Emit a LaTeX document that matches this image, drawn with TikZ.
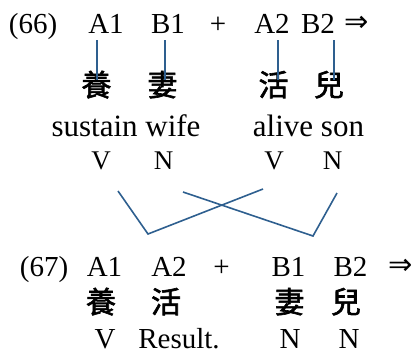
\documentclass[tikz,border=0pt]{standalone}
\usepackage{fontspec}
\setmainfont{Liberation Serif}
\newfontfamily\cjk[FakeBold=2]{Noto Sans CJK TC}
\newfontfamily\symf{DejaVu Sans}
\definecolor{linkblue}{HTML}{2E5F8F}
\tikzset{
  lbl/.style={inner sep=0pt, anchor=base, font=\fontsize{29}{30}\selectfont},
  wrd/.style={inner sep=0pt, anchor=base, font=\fontsize{31}{32}\selectfont},
  cat/.style={inner sep=0pt, anchor=base, font=\fontsize{27}{28}\selectfont},
  catb/.style={inner sep=0pt, anchor=base, font=\fontsize{29}{30}\selectfont},
  han/.style={inner sep=0pt, anchor=base, font=\fontsize{30}{31}\cjk\selectfont},
  arr/.style={inner sep=0pt, anchor=base, font=\fontsize{29}{30}\symf},
  link/.style={draw=linkblue, line width=1.6pt},
}
\begin{document}
\begin{tikzpicture}[x=1pt,y=-1pt]
\useasboundingbox (0,0) rectangle (414,354);
% row 66
\node[lbl] (n66) at (33,33) {(66)};
\node[lbl] (a1) at (106,33) {A1};
\node[lbl] (b1) at (168,33) {B1};
\node[lbl] (p1) at (218,33) {+};
\node[lbl] (a2) at (272,33) {A2};
\node[lbl] (b2) at (318,33) {B2};
\node[arr] (r1) at (357,31) {⇒};
% cjk row
\node[han] (h1) at (96.5,96) {養};
\node[han] (h2) at (162.5,96) {妻};
\node[han] (h3) at (273.5,96) {活};
\node[han] (h4) at (329,96) {兒};
% vertical links
\coordinate (t1) at (97,40); \coordinate (e1) at (97,80);
\coordinate (t2) at (165,40); \coordinate (e2) at (165,80);
\coordinate (t3) at (278,40); \coordinate (e3) at (278,80);
\coordinate (t4) at (334,40); \coordinate (e4) at (334,80);
\draw[link] (t1) -- (e1);
\draw[link] (t2) -- (e2);
\draw[link] (t3) -- (e3);
\draw[link] (t4) -- (e4);
% gloss
\node[wrd] (g1) at (126,136) {sustain wife};
\node[wrd] (g2) at (308.5,136) {alive son};
% categories
\node[cat] (c1) at (101,169) {V};
\node[cat] (c2) at (163.5,169) {N};
\node[cat] (c3) at (274,169) {V};
\node[cat] (c4) at (332.5,169) {N};
% crossing lines
\coordinate (x1) at (118,191); \coordinate (x2) at (148,234); \coordinate (x3) at (263,189);
\coordinate (y1) at (183,192); \coordinate (y2) at (313,236); \coordinate (y3) at (337,193);
\draw[link] (x1) -- (x2) -- (x3);
\draw[link] (y1) -- (y2) -- (y3);
% row 67
\node[lbl] (n67) at (44,276) {(67)};
\node[lbl] (d1) at (104.5,276) {A1};
\node[lbl] (d2) at (169,276) {A2};
\node[lbl] (p2) at (221.5,276) {+};
\node[lbl] (d3) at (288.5,276) {B1};
\node[lbl] (d4) at (350.5,276) {B2};
\node[arr] (r2) at (400.5,274) {⇒};
\node[han] (k1) at (101,313) {養};
\node[han] (k2) at (166,313) {活};
\node[han] (k3) at (289.5,313) {妻};
\node[han] (k4) at (346,313) {兒};
\node[catb] (f1) at (105,348) {V};
\node[catb] (f2) at (179,348) {Result.};
\node[catb] (f3) at (290,348) {N};
\node[catb] (f4) at (349,348) {N};
\end{tikzpicture}
\end{document}
